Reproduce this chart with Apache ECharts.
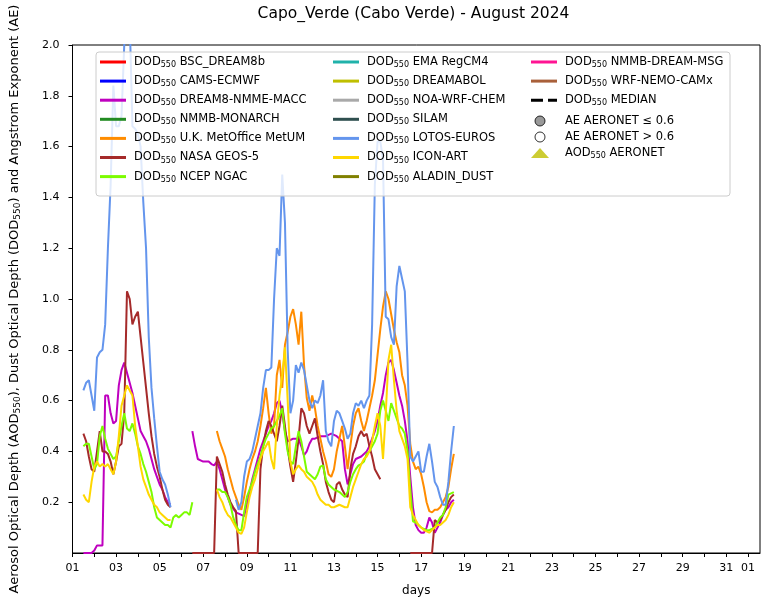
<!DOCTYPE html>
<html><head><meta charset="utf-8">
<script src="https://cdn.jsdelivr.net/npm/echarts@6/dist/echarts.min.js"></script>
<style>html,body{margin:0;padding:0;background:#fff}#chart{width:767px;height:602px}</style>
</head><body><div id="chart"></div>
<script>
// Dust optical depth forecasts at Capo_Verde, August 2024.
// Samples are 3-hourly; x is days elapsed since 1 Aug 00:00.
const STEP = 0.125;
const FONT = 'DejaVu Sans';

// LOTOS-EUROS
const lotosA = [0.64,0.67,0.68,0.62,0.56,0.77,0.79,0.80,0.90,1.20,1.45,1.84,1.68,1.68,1.72,2.0,2.35,2.1,1.68,1.67,1.65,1.6,1.38,1.2,0.85,0.65,0.53,0.42,0.32,0.29,0.27,0.23,0.18];
const lotosB = [0.21,0.17,0.20,0.30,0.36,0.37,0.40,0.45,0.50,0.55,0.65,0.72,0.72,0.73,1.0,1.20,1.17,1.49,1.30,0.80,0.55,0.60,0.74,0.71,0.75,0.72,0.66,0.60,0.57,0.60,0.59,0.62,0.68,0.48,0.44,0.42,0.52,0.56,0.55,0.52,0.49,0.45,0.47,0.55,0.59,0.58,0.60,0.57,0.60,0.62,0.9,1.45,1.62,1.62,1.55,0.93,0.92,0.85,0.82,1.05,1.13,1.08,1.03,0.75,0.38,0.36,0.38,0.40,0.32,0.32,0.38,0.43,0.36,0.28,0.26,0.22,0.19,0.19,0.28,0.40,0.50];
// DREAM8-NMME-MACC
const dream8A = [0,0,0,0,0.01,0.03,0.03,0.03,0.62,0.62,0.55,0.51,0.52,0.66,0.72,0.75,0.71,0.67,0.63,0.58,0.53,0.48,0.46,0.44,0.41,0.37,0.33,0.30,0.27,0.25,0.22,0.20,0.19];
const dream8B = [0.48,0.42,0.37,0.365,0.36,0.36,0.36,0.35,0.345,0.36,0.33,0.29,0.25,0.22,0.19,0.175,0.16,0.155,0.15,0.145,0.19,0.24,0.29,0.33,0.37,0.41,0.44,0.47,0.50,0.52,0.55,0.59,0.60,0.55,0.48,0.44,0.445,0.45,0.45,0.45,0.42,0.385,0.40,0.43,0.45,0.45,0.455,0.46,0.46,0.46,0.465,0.47,0.465,0.46,0.45,0.44,0.33,0.27,0.31,0.35,0.37,0.375,0.38,0.39,0.40,0.42,0.45,0.48,0.52,0.58,0.63,0.70,0.75,0.76,0.72,0.67,0.62,0.58,0.52,0.44,0.30,0.18,0.11,0.09,0.08,0.08,0.10,0.14,0.12,0.08,0.10,0.12,0.15,0.17,0.18,0.20,0.21];
// U.K. MetOffice MetUM
const ukmoB = [0.48,0.44,0.41,0.38,0.33,0.29,0.25,0.22,0.19,0.17,0.22,0.28,0.33,0.37,0.40,0.44,0.50,0.57,0.65,0.55,0.47,0.50,0.70,0.76,0.65,0.82,0.87,0.93,0.96,0.90,0.82,0.95,0.74,0.61,0.56,0.62,0.57,0.50,0.45,0.40,0.36,0.31,0.30,0.33,0.40,0.45,0.50,0.42,0.33,0.42,0.50,0.55,0.57,0.52,0.48,0.52,0.57,0.62,0.68,0.78,0.88,0.97,1.03,1.0,0.94,0.88,0.83,0.79,0.70,0.66,0.58,0.43,0.36,0.33,0.34,0.31,0.26,0.20,0.165,0.16,0.17,0.17,0.18,0.20,0.22,0.26,0.33,0.39];
// NASA GEOS-5
const nasaA = [0.47,0.44,0.38,0.33,0.32,0.40,0.48,0.40,0.40,0.39,0.36,0.31,0.36,0.42,0.43,0.55,1.03,1.00,0.90,0.93,0.95,0.85,0.75,0.65,0.55,0.46,0.39,0.34,0.30,0.25,0.21,0.19,0.18];
const nasaB = [0,0,0,0,0,0,0,0,0,0.38,0.35,0.32,0.27,0.23,0.20,0.18,0.165,0,0,0,0,0,0,0,0,0.33,0.42,0.48,0.52,0.50,0.47,0.44,0.50,0.58,0.50,0.41,0.34,0.28,0.36,0.45,0.57,0.55,0.50,0.47,0.50,0.53,0.46,0.40,0.35,0.28,0.24,0.21,0.20,0.27,0.28,0.25,0.23,0.22,0.33,0.39,0.42,0.46,0.48,0.46,0.47,0.42,0.38,0.33,0.31,0.29];
const nasaC = [0,0,0,0,0,0,0,0,0,0.13,0.12,0.13,0.15,0.17,0.20,0.22,0.23];
// NCEP NGAC
const ncepA = [0.42,0.43,0.43,0.38,0.33,0.35,0.46,0.50,0.45,0.41,0.39,0.37,0.38,0.44,0.50,0.55,0.49,0.48,0.51,0.47,0.42,0.39,0.35,0.32,0.28,0.24,0.18,0.14,0.13,0.12,0.11,0.11,0.10,0.14,0.15,0.14,0.15,0.16,0.16,0.15,0.20];
const ncepB = [0.25,0.25,0.24,0.24,0.22,0.19,0.14,0.11,0.09,0.09,0.16,0.22,0.25,0.28,0.32,0.35,0.38,0.42,0.45,0.47,0.49,0.50,0.52,0.54,0.57,0.47,0.40,0.36,0.35,0.42,0.48,0.44,0.38,0.32,0.31,0.30,0.29,0.31,0.34,0.345,0.29,0.27,0.26,0.25,0.245,0.24,0.23,0.22,0.24,0.28,0.31,0.33,0.345,0.35,0.36,0.39,0.40,0.42,0.44,0.47,0.56,0.60,0.56,0.52,0.59,0.56,0.53,0.50,0.49,0.47,0.40,0.25,0.125,0.12,0.11,0.10,0.095,0.09,0.09,0.095,0.10,0.12,0.14,0.15,0.18,0.23,0.235,0.24];
// ICON-ART
const iconA = [0.23,0.21,0.20,0.28,0.34,0.36,0.34,0.35,0.34,0.35,0.33,0.31,0.36,0.46,0.58,0.62,0.66,0.64,0.62,0.50,0.42,0.34,0.29,0.26,0.23,0.21,0.19,0.18,0.16,0.15,0.14,0.13,0.13];
const iconB = [0.25,0.22,0.20,0.17,0.15,0.14,0.12,0.10,0.08,0.075,0.10,0.16,0.22,0.26,0.29,0.33,0.37,0.40,0.42,0.44,0.37,0.33,0.50,0.62,0.70,0.81,0.60,0.36,0.31,0.33,0.345,0.33,0.32,0.30,0.29,0.28,0.26,0.23,0.21,0.20,0.19,0.19,0.18,0.18,0.185,0.19,0.185,0.18,0.18,0.22,0.26,0.29,0.32,0.35,0.37,0.38,0.40,0.44,0.50,0.55,0.50,0.37,0.55,0.76,0.82,0.68,0.56,0.48,0.45,0.42,0.37,0.18,0.15,0.13,0.11,0.10,0.09,0.085,0.08,0.09,0.10,0.11,0.11,0.12,0.13,0.15,0.18,0.20];

// Axis ticks
const yTicks = [0, 0.2, 0.4, 0.6, 0.8, 1.0, 1.2, 1.4, 1.6, 1.8, 2.0];
const dayTicks = ['01','03','05','07','09','11','13','15','17','19','21','23','25','27','29','31','01'];

// Build [day, value] points; each segment starts at its own day, gaps break the line.
function track(...segments) {
  const pts = [];
  segments.forEach(([start, values], j) => {
    if (j > 0) pts.push([start - STEP / 2, null]);
    values.forEach((v, i) => pts.push([start + i * STEP, v]));
  });
  return pts;
}

const models = [
  ['BSC_DREAM8b', '#FF0000', []],
  ['CAMS-ECMWF', '#0000FF', []],
  ['DREAM8-NMME-MACC', '#BF00BF', track([0.5, dream8A], [5.5, dream8B])],
  ['NMMB-MONARCH', '#228B22', []],
  ['U.K. MetOffice MetUM', '#FF8C00', track([6.625, ukmoB])],
  ['NASA GEOS-5', '#A52A2A', track([0.5, nasaA], [5.5, nasaB], [15.5, nasaC])],
  ['NCEP NGAC', '#7CFC00', track([0.5, ncepA], [6.625, ncepB])],
  ['EMA RegCM4', '#20B2AA', []],
  ['DREAMABOL', '#BFBF00', []],
  ['NOA-WRF-CHEM', '#A9A9A9', []],
  ['SILAM', '#2F4F4F', []],
  ['LOTOS-EUROS', '#6495ED', track([0.5, lotosA], [7.5, lotosB])],
  ['ICON-ART', '#FFD700', track([0.5, iconA], [6.625, iconB])],
  ['ALADIN_DUST', '#808000', []],
  ['NMMB-DREAM-MSG', '#FF1493', []],
  ['WRF-NEMO-CAMx', '#A9603A', []],
  ['MEDIAN', '#000000', []]
];

// Series that never leave the 0..2 range are drawn unclipped so their
// zero-valued stretches stay visible along the bottom axis.
const series = models.map(([name, color, data]) => {
  const maxV = data.reduce((m, p) => (p[1] != null && p[1] > m ? p[1] : m), 0);
  return {
    name, type: 'line', data, color, showSymbol: false, symbol: 'none',
    connectNulls: false, clip: maxV > 2, animation: false, z: 3,
    lineStyle: { width: 2, color, type: name === 'MEDIAN' ? 'dashed' : 'solid' }
  };
});
series.push(
  { name: 'AE AERONET ≤ 0.6', type: 'scatter', data: [], symbol: 'circle',
    itemStyle: { color: '#808080', borderColor: '#000', borderWidth: 1 } },
  { name: 'AE AERONET > 0.6', type: 'scatter', data: [], symbol: 'circle',
    itemStyle: { color: '#ffffff', borderColor: '#000', borderWidth: 1 } },
  { name: 'AOD AERONET', type: 'scatter', data: [], symbol: 'triangle',
    itemStyle: { color: '#BFBF00' } }
);

const LINE_ICON = 'path://M0,0H26V3H0Z';
const DASH_ICON = 'path://M0,0H12V3H0ZM17,0H26V3H17Z';

const richBase = {
  n: { fontFamily: FONT, fontSize: 11.5, color: '#000', lineHeight: 14 },
  d: { fontFamily: FONT, fontSize: 11.5, color: '#000', lineHeight: 14, padding: [0, 0, 0, 3] },
  e: { fontFamily: FONT, fontSize: 11.5, color: '#000', lineHeight: 14, padding: [0, 0, 0, 11] },
  s: { fontFamily: FONT, fontSize: 8, color: '#000', lineHeight: 6, verticalAlign: 'bottom' }
};

function legendLabel(name) {
  if (name.startsWith('AE ')) return '{e|' + name + '}';
  if (name === 'AOD AERONET') return '{e|AOD}{s|550}{n| AERONET}';
  return '{d|DOD}{s|550}{n| ' + name + '}';
}

function legendCol(names, left, top, opts) {
  return Object.assign({
    orient: 'vertical', left, top, padding: 0, itemGap: 6.1,
    itemWidth: 26, itemHeight: 10, selectedMode: false, z: 20,
    symbolKeepAspect: true,
    itemStyle: { borderWidth: 0 },
    data: names.map(n => ({ name: n, icon: n === 'MEDIAN' ? DASH_ICON : LINE_ICON })),
    formatter: legendLabel,
    textStyle: { rich: richBase }
  }, opts || {});
}

const names = models.map(m => m[0]);

const option = {
  animation: false,
  backgroundColor: '#ffffff',
  textStyle: { fontFamily: FONT },
  grid: { left: 67, right: 7, top: 45, bottom: 42, show: true, borderColor: '#000', borderWidth: 1, containLabel: false },
  graphic: [
    { type: 'text', x: 413.5, y: 6, z: 30,
      style: { text: 'Capo_Verde (Cabo Verde) - August 2024', fill: '#000', fontFamily: FONT, fontSize: 15.5, align: 'center', verticalAlign: 'top' } },
    { type: 'rect', z: 15, shape: { x: 96, y: 52, width: 634, height: 144, r: 3 },
      style: { fill: 'rgba(255,255,255,0.8)', stroke: '#cccccc', lineWidth: 1 } }
  ],
  legend: [
    legendCol(names.slice(0, 7), 100, 56),
    legendCol(names.slice(7, 14), 333, 56),
    legendCol(names.slice(14, 17), 531, 56),
    Object.assign(legendCol([], 531, 115), {
      itemGap: 4, itemWidth: 18, itemHeight: 10,
      data: [
        { name: 'AE AERONET ≤ 0.6', icon: 'circle', itemStyle: { color: '#808080', borderColor: '#000', borderWidth: 1 } },
        { name: 'AE AERONET > 0.6', icon: 'circle', itemStyle: { color: '#ffffff', borderColor: '#000', borderWidth: 1 } },
        { name: 'AOD AERONET', icon: 'triangle', itemStyle: { color: '#BFBF00', borderWidth: 0 } }
      ]
    })
  ],
  xAxis: {
    type: 'value', min: 0, max: 31.55, interval: 1,
    name: 'days', nameLocation: 'middle', nameGap: 32,
    nameTextStyle: { fontFamily: FONT, fontSize: 12, color: '#000' },
    axisLine: { show: true, lineStyle: { color: '#000', width: 1 } },
    axisTick: { show: true, length: 4, lineStyle: { color: '#000' } },
    splitLine: { show: false },
    axisLabel: {
      color: '#000', fontFamily: FONT, fontSize: 11, margin: 10, showMaxLabel: false,
      formatter: v => {
        const d = Math.round(v);
        if (d === 31) return dayTicks[16];
        return d % 2 === 0 ? dayTicks[d / 2] : '';
      }
    }
  },
  yAxis: {
    type: 'value', min: yTicks[0], max: yTicks[yTicks.length - 1], interval: 0.2,
    name: '{t|Aerosol Optical Depth (AOD}{s|550}{t|), Dust Optical Depth (DOD}{s|550}{t|) and Angstrom Exponent (AE)}',
    nameLocation: 'middle', nameRotate: 90, nameGap: 50,
    nameTextStyle: { rich: {
      t: { fontFamily: FONT, fontSize: 13, color: '#000', lineHeight: 16 },
      s: { fontFamily: FONT, fontSize: 9, color: '#000', lineHeight: 7, verticalAlign: 'bottom' }
    } },
    axisLine: { show: true, lineStyle: { color: '#000', width: 1 } },
    axisTick: { show: true, length: 4, lineStyle: { color: '#000' } },
    splitLine: { show: false },
    axisLabel: { color: '#000', fontFamily: FONT, fontSize: 11, margin: 13, showMinLabel: false,
      formatter: v => v.toFixed(1) }
  },
  series
};

const chart = echarts.init(document.getElementById('chart'), null, { renderer: 'canvas' });
chart.setOption(option);
</script></body></html>
